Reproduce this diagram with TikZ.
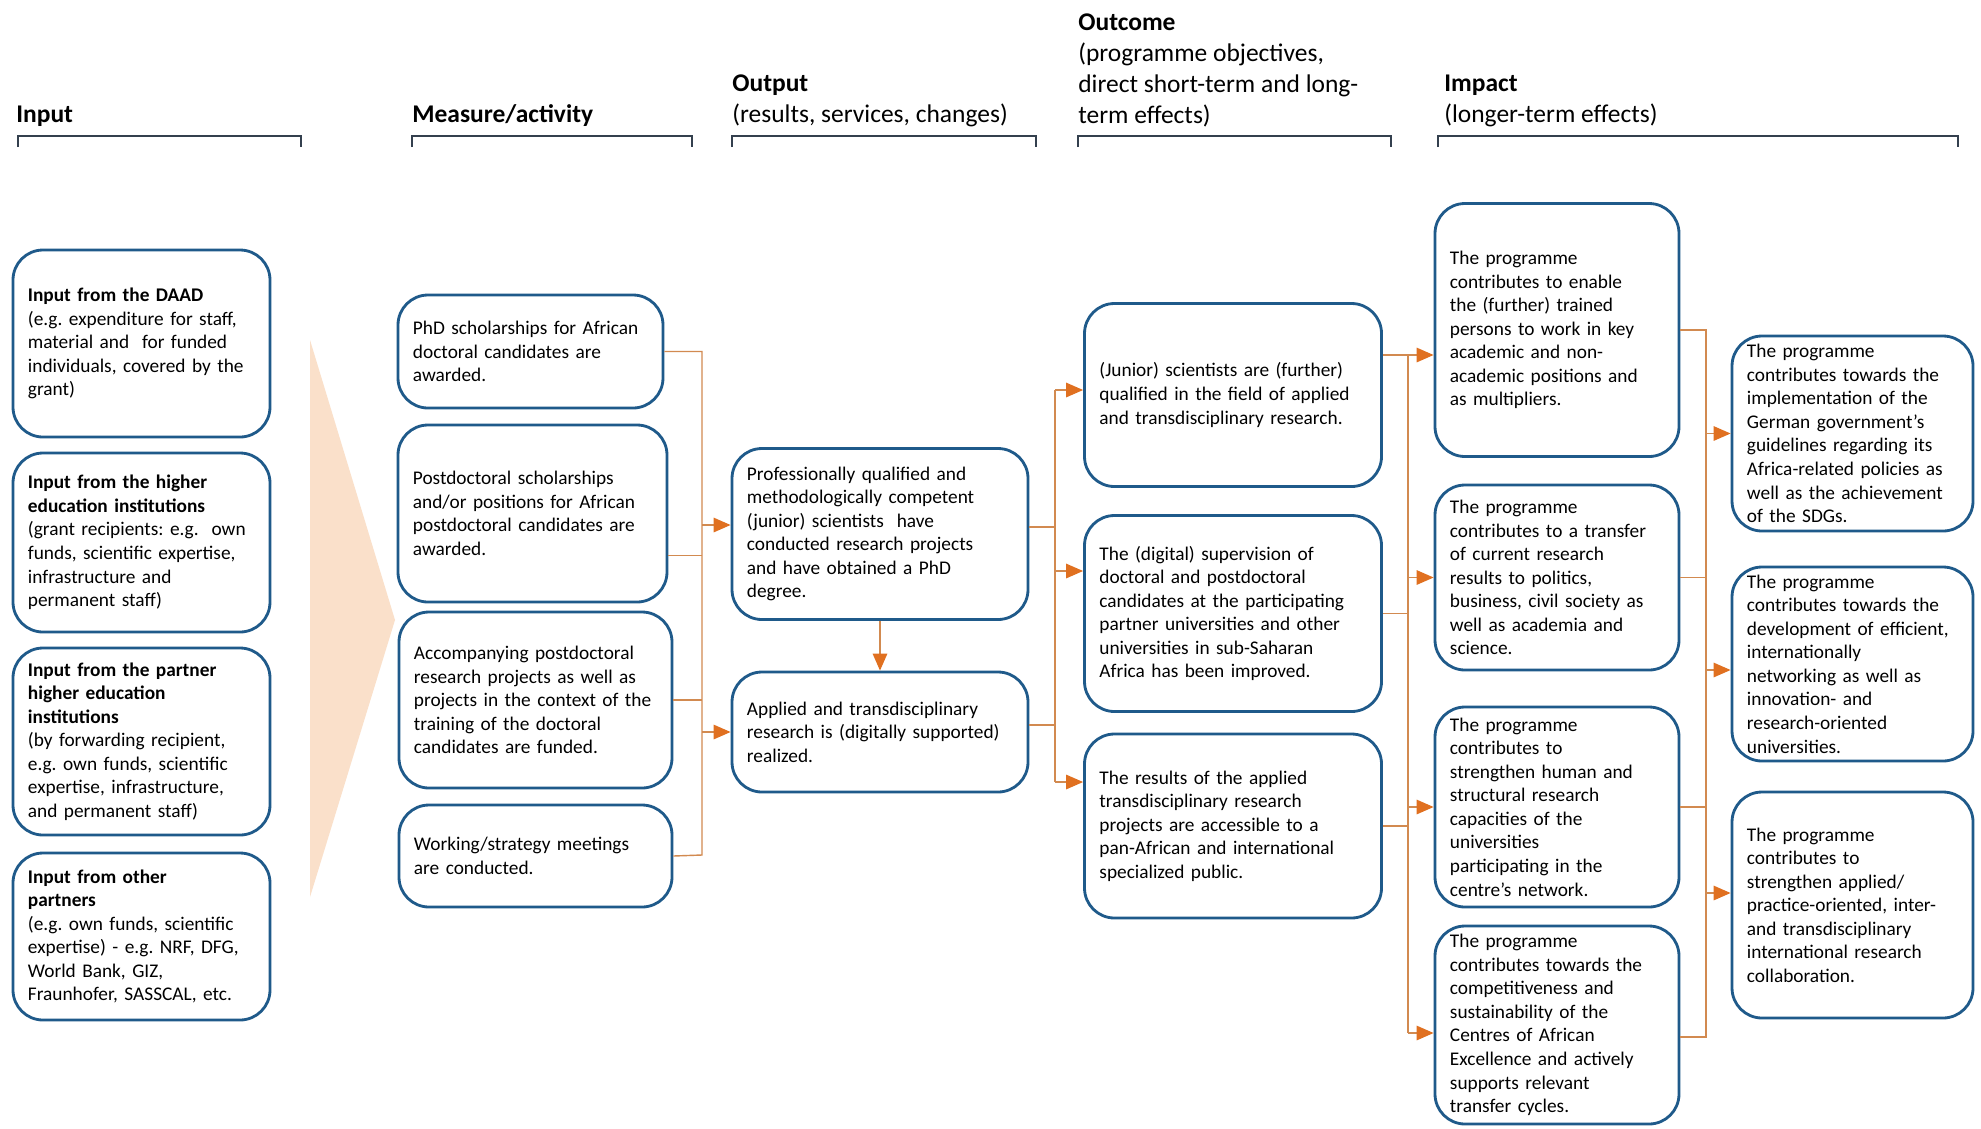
\documentclass[tikz,border=0pt]{standalone}
\usepackage{fontspec}
\setmainfont{Carlito}
\usetikzlibrary{arrows.meta,calc}

\definecolor{daadblue}{RGB}{31,90,138}
\definecolor{linkbrown}{RGB}{210,138,80}
\definecolor{tipgold}{RGB}{224,112,32}
\definecolor{wedge}{RGB}{250,224,202}
\definecolor{bracketgray}{RGB}{52,64,78}

\frenchspacing
\newcommand{\boxfont}{\fontsize{11}{13.4}\selectfont}
\newcommand{\headfont}{\fontsize{14.5}{17.6}\selectfont}

\tikzset{
  box/.style={draw=daadblue, line width=1.6pt, rounded corners=6mm, fill=white,
    align=left, font=\boxfont, inner xsep=8.5pt, inner ysep=1pt},
  sz/.style 2 args={minimum width=#1*0.2mm, minimum height=#2*0.2mm,
    text width=#1*0.2mm-17pt},
  head/.style={anchor=south west, inner sep=0pt, align=left, font=\headfont},
  link/.style={draw=linkbrown, line width=0.8pt},
  arr/.style={link, -{Triangle[length=3.4mm, width=2.9mm, color=tipgold]}},
  bracket/.style={draw=bracketgray, line width=1.1pt},
}

\begin{document}
\begin{tikzpicture}[x=0.2mm, y=-0.2mm]

    \fill[white] (0,0) rectangle (1981,1128);
    \useasboundingbox (0,0) rectangle (1981,1128);

    % Column headings
    \node[head] (hInput) at (16,127) {\textbf{Input}};
    \node[head] (hMeasure) at (412,127) {\textbf{Measure/activity}};
    \node[head] (hOutput) at (732,127) {\textbf{Output}\\(results, services, changes)};
    \node[head] (hOutcome) at (1078,127) {\textbf{Outcome}\\(programme objectives,\\direct short-term and long-\\term effects)};
    \node[head] (hImpact) at (1444,127) {\textbf{Impact}\\(longer-term effects)};

    % Brackets under the headings
    \foreach \a/\b in {18/301, 412/692, 732/1036, 1078/1391, 1438/1958} {
        \draw[bracket] (\a,147) -- (\a,136) -- (\b,136) -- (\b,147);
    }

    % Wedge between input and measures
    \fill[wedge] (310,340) -- (395,620) -- (310,897) -- cycle;

    % Input
    \node[box, sz={257}{187}] (inDAAD) at (141.5,343.5)
        {\textbf{Input from the DAAD}\\(e.g. expenditure for staff,\\material and \ for funded\\individuals, covered by the\\grant)};
    \node[box, sz={257}{179}] (inHEI) at (141.5,542.5)
        {\textbf{Input from the higher}\\\textbf{education institutions}\\(grant recipients: e.g. \ own\\funds, scientific expertise,\\infrastructure and\\permanent staff)};
    \node[box, sz={257}{187}] (inPartner) at (141.5,741.5)
        {\textbf{Input from the partner}\\\textbf{higher education}\\\textbf{institutions}\\(by forwarding recipient,\\e.g. own funds, scientific\\expertise, infrastructure,\\and permanent staff)};
    \node[box, sz={257}{167}] (inOther) at (141.5,936.5)
        {\textbf{Input from other}\\\textbf{partners}\\(e.g. own funds, scientific\\expertise) - e.g. NRF, DFG,\\World Bank, GIZ,\\Fraunhofer, SASSCAL, etc.};

    % Measure/activity
    \node[box, sz={265}{113}] (mPhD) at (530.5,351.5)
        {PhD scholarships for African\\doctoral candidates are\\awarded.};
    \node[box, sz={269}{177}] (mPostdoc) at (532.5,513.5)
        {Postdoctoral scholarships\\and/or positions for African\\postdoctoral candidates are\\awarded.};
    \node[box, sz={273}{176}] (mAccomp) at (535.5,700)
        {Accompanying postdoctoral\\research projects as well as\\projects in the context of the\\training of the doctoral\\candidates are funded.};
    \node[box, sz={273}{102}] (mMeet) at (535.5,856)
        {Working/strategy meetings\\are conducted.};

    % Output
    \node[box, sz={296}{171}] (oQual) at (880,534)
        {Professionally qualified and\\methodologically competent\\(junior) scientists \ have\\conducted research projects\\and have obtained a PhD\\degree.};
    \node[box, sz={296}{120}] (oApplied) at (880,732)
        {Applied and transdisciplinary\\research is (digitally supported)\\realized.};

    % Outcome
    \node[box, sz={297}{183}] (ocJunior) at (1233,395)
        {(Junior) scientists are (further)\\qualified in the field of applied\\and transdisciplinary research.};
    \node[box, sz={297}{196}] (ocSuperv) at (1233,613.5)
        {The (digital) supervision of\\doctoral and postdoctoral\\candidates at the participating\\partner universities and other\\universities in sub-Saharan\\Africa has been improved.};
    \node[box, sz={297}{184}] (ocResults) at (1233,826)
        {The results of the applied\\transdisciplinary research\\projects are accessible to a\\pan-African and international\\specialized public.};

    % Impact, first level
    \node[box, sz={244}{253}] (imWork) at (1557,330)
        {The programme\\contributes to enable\\the (further) trained\\persons to work in key\\academic and non-\\academic positions and\\as multipliers.};
    \node[box, sz={244}{185}] (imTransfer) at (1557,577.5)
        {The programme\\contributes to a transfer\\of current research\\results to politics,\\business, civil society as\\well as academia and\\science.};
    \node[box, sz={244}{200}] (imCapac) at (1557,807)
        {The programme\\contributes to\\strengthen human and\\structural research\\capacities of the\\universities\\participating in the\\centre’s network.};
    \node[box, sz={244}{198}] (imCompet) at (1557,1025)
        {The programme\\contributes towards the\\competitiveness and\\sustainability of the\\Centres of African\\Excellence and actively\\supports relevant\\transfer cycles.};

    % Impact, second level
    \node[box, sz={241}{195}] (fGov) at (1852.5,433.5)
        {The programme\\contributes towards the\\implementation of the\\German government's\\guidelines regarding its\\Africa-related policies as\\well as the achievement\\of the SDGs.};
    \node[box, sz={241}{194}] (fUniv) at (1852.5,664)
        {The programme\\contributes towards the\\development of efficient,\\internationally\\networking as well as\\innovation- and\\research-oriented\\universities.};
    \node[box, sz={241}{226}] (fCollab) at (1852.5,905)
        {The programme\\contributes to\\strengthen applied/\\practice-oriented, inter-\\and transdisciplinary\\international research\\collaboration.};

    % Measures -> output
    \coordinate (mTrunk) at (702,350);
    \coordinate (mTrunkEnd) at (702,855);
    \draw[link] (mPhD.east) -| (mTrunkEnd) -- (mMeet.east);
    \coordinate (pd) at ($(mPostdoc.east)+(0,42)$);
    \draw[link] (pd) -- (pd -| mTrunk);
    \draw[link] (mAccomp.east) -- (mAccomp.east -| mTrunk);
    \coordinate (toQual) at (702,525);
    \draw[arr] (toQual) -- (toQual -| oQual.west);
    \draw[arr] (mTrunk |- oApplied.west) -- (oApplied.west);
    \draw[arr] (oQual.south) -- (oApplied.north);

    % Output -> outcome
    \coordinate (oTrunk) at (1055,390);
    \coordinate (oTrunkEnd) at (1055,782);
    \draw[link] (oTrunk) -- (oTrunkEnd);
    \coordinate (oq) at ($(oQual.east)+(0,-7)$);
    \draw[link] (oq) -- (oq -| oTrunk);
    \coordinate (oa) at ($(oApplied.east)+(0,-7)$);
    \draw[link] (oa) -- (oa -| oTrunk);
    \draw[arr] (oTrunk) -- (oTrunk -| ocJunior.west);
    \coordinate (toSuperv) at (1055,571);
    \draw[arr] (toSuperv) -- (toSuperv -| ocSuperv.west);
    \draw[arr] (oTrunkEnd) -- (oTrunkEnd -| ocResults.west);

    % Outcome -> impact
    \coordinate (ocTrunk) at (1408,355);
    \coordinate (ocTrunkEnd) at (1408,1033);
    \coordinate (oj) at (ocJunior.east |- ocTrunk);
    \draw[arr] (oj) -- (oj -| imWork.west);
    \draw[link] (ocTrunk) -- (ocTrunkEnd);
    \draw[link] (ocSuperv.east) -- (ocSuperv.east -| ocTrunk);
    \draw[link] (ocResults.east) -- (ocResults.east -| ocTrunk);
    \draw[arr] (ocTrunk |- imTransfer.west) -- (imTransfer.west);
    \draw[arr] (ocTrunk |- imCapac.west) -- (imCapac.west);
    \draw[arr] (ocTrunkEnd) -- (ocTrunkEnd -| imCompet.west);

    % Impact -> longer-term impact
    \coordinate (imTrunk) at (1706,332);
    \coordinate (imTrunkEnd) at (1706,1037);
    \draw[link] (imWork.east) -| (imTrunkEnd) -- (imTrunkEnd -| imCompet.east);
    \draw[link] (imTransfer.east) -- (imTransfer.east -| imTrunk);
    \draw[link] (imCapac.east) -- (imCapac.east -| imTrunk);
    \draw[arr] (imTrunk |- fGov.west) -- (fGov.west);
    \coordinate (toUniv) at (1706,670);
    \draw[arr] (toUniv) -- (toUniv -| fUniv.west);
    \coordinate (toCollab) at (1706,893);
    \draw[arr] (toCollab) -- (toCollab -| fCollab.west);

\end{tikzpicture}
\end{document}
